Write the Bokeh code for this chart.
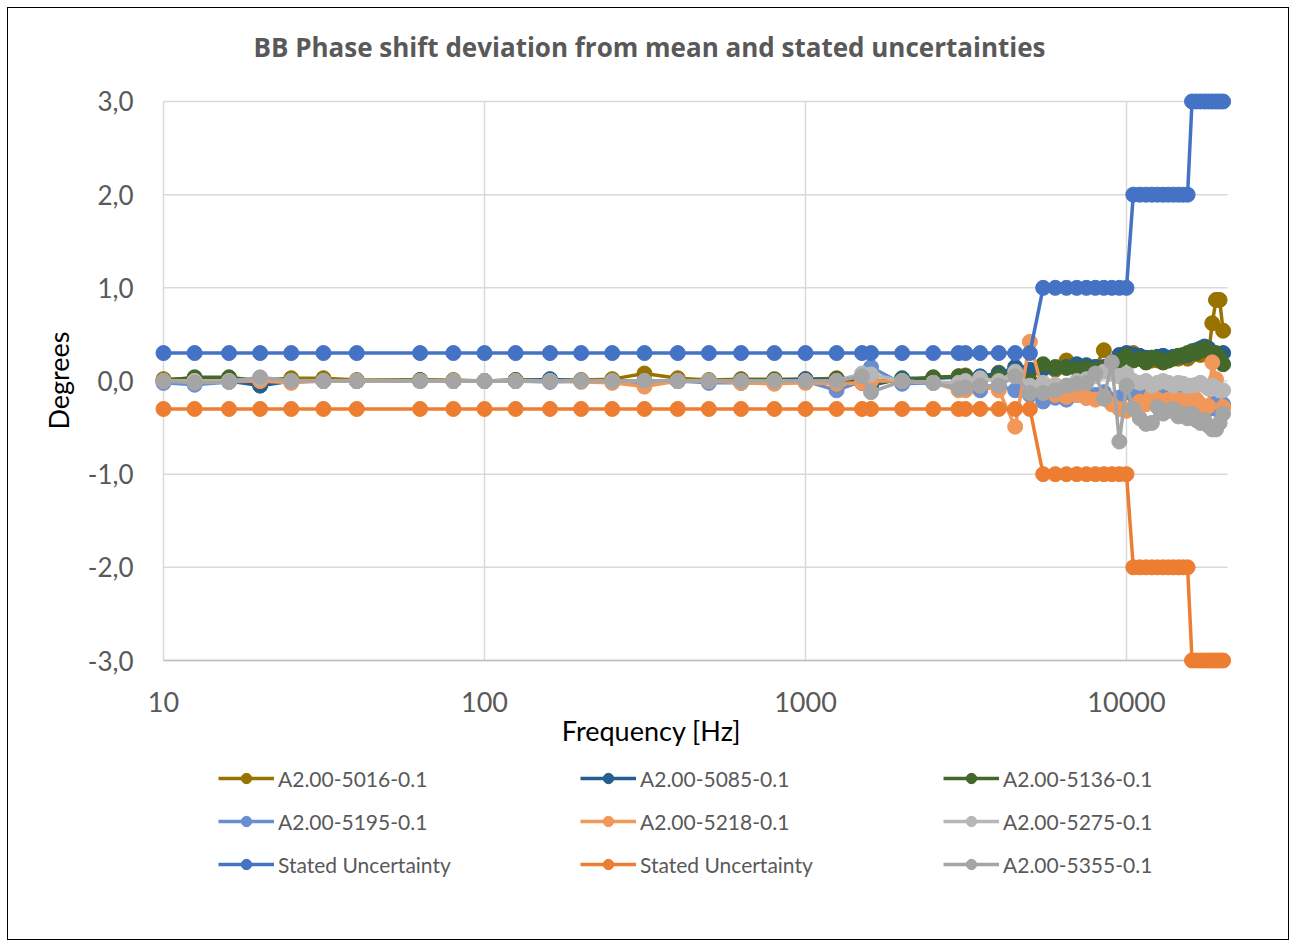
import math
from bokeh.plotting import figure
from bokeh.models import Range1d, Legend, LegendItem, Label
from bokeh.embed import file_html
from bokeh.resources import INLINE
from bokeh.core.properties import value

# ---------------- data ----------------
freq = [10, 12.5, 16, 20, 25, 31.5, 40, 63, 80, 100, 125, 160, 200, 250, 315, 400, 500, 630,
        800, 1000, 1250, 1500, 1600, 2000, 2500, 3000, 3150, 3500, 4000, 4500, 5000,
        5500, 6000, 6500, 7000, 7500, 8000, 8500, 9000, 9500, 10000,
        10500, 11000, 11500, 12000, 12500, 13000, 13500, 14000, 14500, 15000, 15500,
        16000, 16500, 17000, 17500, 18000, 18500, 19000, 19500, 20000]

unc_upper = [0.3, 0.3, 0.3, 0.3, 0.3, 0.3, 0.3, 0.3, 0.3, 0.3, 0.3, 0.3, 0.3, 0.3, 0.3, 0.3, 0.3, 0.3,
             0.3, 0.3, 0.3, 0.3, 0.3, 0.3, 0.3, 0.3, 0.3, 0.3, 0.3, 0.3, 0.3,
             1.0, 1.0, 1.0, 1.0, 1.0, 1.0, 1.0, 1.0, 1.0, 1.0,
             2.0, 2.0, 2.0, 2.0, 2.0, 2.0, 2.0, 2.0, 2.0, 2.0, 2.0,
             3.0, 3.0, 3.0, 3.0, 3.0, 3.0, 3.0, 3.0, 3.0]
unc_lower = [-0.3, -0.3, -0.3, -0.3, -0.3, -0.3, -0.3, -0.3, -0.3, -0.3, -0.3, -0.3, -0.3, -0.3, -0.3, -0.3, -0.3, -0.3,
             -0.3, -0.3, -0.3, -0.3, -0.3, -0.3, -0.3, -0.3, -0.3, -0.3, -0.3, -0.3, -0.3,
             -1.0, -1.0, -1.0, -1.0, -1.0, -1.0, -1.0, -1.0, -1.0, -1.0,
             -2.0, -2.0, -2.0, -2.0, -2.0, -2.0, -2.0, -2.0, -2.0, -2.0, -2.0,
             -3.0, -3.0, -3.0, -3.0, -3.0, -3.0, -3.0, -3.0, -3.0]

s5016 = [0.02, 0.03, 0.03, 0.01, 0.03, 0.03, 0.01, 0.01, 0.01, 0.0, 0.01, 0.01, 0.01, 0.02, 0.08, 0.03, 0.01, 0.02,
         0.02, 0.02, 0.03, 0.02, 0.0, 0.02, 0.03, 0.05, 0.06, 0.04, 0.09, 0.1, 0.12,
         0.14, 0.12, 0.22, 0.14, 0.12, 0.15, 0.33, 0.2, 0.25, 0.28,
         0.3, 0.24, 0.2, 0.22, 0.22, 0.2, 0.22, 0.25, 0.24, 0.26, 0.24,
         0.28, 0.3, 0.28, 0.3, 0.28, 0.62, 0.87, 0.87, 0.54]
s5085 = [0.0, -0.01, 0.0, -0.05, 0.0, 0.0, 0.0, 0.0, 0.0, 0.0, 0.0, 0.02, 0.0, 0.0, 0.0, 0.0, 0.0, 0.0,
         0.01, 0.02, 0.02, -0.02, -0.05, 0.03, 0.03, 0.04, 0.05, 0.05, 0.08, 0.15, 0.12,
         0.13, 0.14, 0.15, 0.18, 0.17, 0.15, 0.15, 0.2, 0.28, 0.3,
         0.28, 0.27, 0.25, 0.25, 0.26, 0.27, 0.25, 0.26, 0.27, 0.27, 0.28,
         0.3, 0.33, 0.35, 0.37, 0.35, 0.3, 0.25, 0.22, 0.3]
s5136 = [0.0, 0.04, 0.04, 0.0, 0.0, 0.0, 0.0, 0.01, 0.0, 0.0, 0.01, 0.0, 0.0, 0.0, 0.0, 0.0, 0.0, 0.01,
         0.01, 0.0, 0.02, 0.0, -0.02, 0.01, 0.04, 0.05, 0.05, 0.02, 0.05, 0.1, 0.0,
         0.18, 0.15, 0.14, 0.13, 0.14, 0.12, 0.14, 0.18, 0.22, 0.27,
         0.22, 0.24, 0.2, 0.25, 0.24, 0.2, 0.22, 0.24, 0.27, 0.28, 0.3,
         0.32, 0.3, 0.33, 0.35, 0.32, 0.28, 0.3, 0.25, 0.18]
s5195 = [-0.02, -0.04, -0.01, 0.0, 0.0, 0.0, 0.0, 0.0, 0.0, 0.0, 0.0, -0.01, 0.0, 0.0, -0.02, 0.0, -0.02, -0.02,
         -0.02, 0.0, -0.1, 0.0, 0.15, -0.03, -0.02, -0.05, -0.07, -0.1, -0.05, -0.1, -0.15,
         -0.22, -0.18, -0.2, -0.15, -0.18, -0.15, -0.12, -0.2, -0.18, -0.1,
         -0.15, -0.12, -0.2, -0.15, -0.18, -0.1, -0.15, -0.12, -0.15, -0.18, -0.2,
         -0.25, -0.22, -0.28, -0.32, -0.3, -0.25, -0.3, -0.2, -0.25]
s5218 = [0.0, 0.0, 0.0, 0.0, -0.02, 0.0, 0.0, 0.0, 0.0, 0.0, 0.0, 0.0, -0.01, -0.02, -0.06, 0.0, 0.0, -0.02,
         -0.03, -0.02, -0.03, -0.02, 0.0, 0.0, -0.02, -0.1, -0.1, -0.05, -0.1, -0.49, 0.42,
         -0.12, -0.15, -0.17, -0.15, -0.18, -0.2, -0.17, -0.25, -0.3, -0.32,
         -0.28, -0.22, -0.25, -0.15, -0.2, -0.22, -0.2, -0.18, -0.25, -0.2, -0.28,
         -0.15, -0.2, -0.25, -0.3, -0.27, 0.2, 0.02, -0.1, -0.28]
s5275 = [0.0, 0.0, 0.0, 0.03, 0.0, 0.0, 0.0, 0.0, 0.0, 0.0, 0.0, 0.0, 0.0, 0.0, 0.0, 0.0, 0.0, 0.0,
         0.0, 0.0, 0.0, 0.08, 0.07, 0.0, -0.02, -0.02, 0.0, 0.03, 0.0, 0.1, -0.05,
         -0.02, -0.04, -0.05, 0.0, 0.02, 0.05, 0.1, 0.08, 0.05, 0.08,
         0.0, -0.02, 0.0, -0.05, -0.02, 0.0, -0.02, -0.05, -0.02, -0.03, -0.05,
         -0.05, -0.04, -0.02, -0.05, -0.08, -0.05, -0.08, -0.1, -0.1]
s5355 = [0.0, -0.02, -0.01, 0.04, 0.0, 0.0, 0.0, 0.0, 0.0, 0.0, 0.0, 0.0, 0.0, 0.0, 0.0, 0.0, 0.0, 0.0,
         0.0, 0.0, 0.0, 0.05, -0.12, 0.0, -0.02, -0.08, -0.07, -0.05, -0.05, 0.05, -0.13,
         -0.13, -0.1, -0.05, -0.03, -0.02, 0.08, -0.19, 0.2, -0.65, -0.05,
         -0.3, -0.4, -0.46, -0.45, -0.28, -0.35, -0.32, -0.3, -0.38, -0.35, -0.4,
         -0.35, -0.42, -0.45, -0.42, -0.48, -0.52, -0.52, -0.45, -0.35]

series_names = ["A2.00-5016-0.1", "A2.00-5085-0.1", "A2.00-5136-0.1", "A2.00-5195-0.1",
                "A2.00-5218-0.1", "A2.00-5275-0.1", "Stated Uncertainty", "Stated Uncertainty",
                "A2.00-5355-0.1"]
series_values = [s5016, s5085, s5136, s5195, s5218, s5275, unc_upper, unc_lower, s5355]
series_colors = ["#997300", "#255E91", "#43682B", "#698ED0", "#F1975A", "#B7B7B7",
                 "#4472C4", "#ED7D31", "#A5A5A5"]

y_ticks = [-3, -2, -1, 0, 1, 2, 3]
y_tick_labels = ["-3,0", "-2,0", "-1,0", "0,0", "1,0", "2,0", "3,0"]
x_ticks = [10, 100, 1000, 10000]
x_tick_labels = ["10", "100", "1000", "10000"]

# ---------------- layout (canvas pixels) ----------------
FONT = "Lato"
TITLE_FONT = "Open Sans"
TXT = "#595959"
W, H = 1282, 933
PX_DEC = 321.0           # px per decade
PX_UNIT = 93.17          # px per y unit
X10_PX = 155             # canvas x of 10 Hz
Y0_PX = 372.5            # canvas y of 0
GRID_RIGHT_PX = 1219     # right end of horizontal gridlines


def xd(px):   # canvas x pixel -> data x
    return 10 ** (1 + (px - X10_PX) / PX_DEC)


def yd(py):   # canvas y pixel -> data y
    return (Y0_PX - py) / PX_UNIT


p = figure(width=W, height=H, x_axis_type="log",
           x_axis_location=None, y_axis_location=None,
           x_range=Range1d(xd(0), xd(W)), y_range=Range1d(yd(H), yd(0)),
           output_backend="svg", toolbar_location=None, min_border=0)
p.styles = {"border": "1px solid #000000", "margin-left": "7px", "margin-top": "7px"}
p.outline_line_color = None
p.background_fill_color = "white"
p.border_fill_color = "white"
p.xgrid.grid_line_color = None
p.ygrid.grid_line_color = None

# gridlines restricted to the plot area
gx_end = xd(GRID_RIGHT_PX)
p.segment(x0=[x_ticks[0]] * len(y_ticks), x1=[gx_end] * len(y_ticks), y0=y_ticks, y1=y_ticks,
          line_color="#D9D9D9", line_width=1.5)
p.segment(x0=x_ticks, x1=x_ticks, y0=[y_ticks[0]] * len(x_ticks), y1=[y_ticks[-1]] * len(x_ticks),
          line_color="#D9D9D9", line_width=1.5)
p.segment(x0=[x_ticks[0]], x1=[gx_end], y0=[y_ticks[0]], y1=[y_ticks[0]],
          line_color="#BFBFBF", line_width=1.5)

# tick labels
p.text(x=[xd(125)] * len(y_ticks), y=y_ticks, text=y_tick_labels,
       text_font=value(FONT), text_font_size="26px", text_color=TXT,
       text_align="right", text_baseline="middle")
p.text(x=x_ticks, y=[yd(693)] * len(x_ticks), text=x_tick_labels,
       text_font=value(FONT), text_font_size="27px", text_color=TXT,
       text_align="center", text_baseline="middle")

# axis titles and chart title
p.add_layout(Label(x=xd(643), y=yd(722), text="Frequency [Hz]", text_font=FONT,
                   text_font_size="27px", text_color="#000000",
                   text_align="center", text_baseline="middle"))
p.add_layout(Label(x=xd(50), y=yd(372), text="Degrees", text_font=FONT, angle=math.pi / 2,
                   text_font_size="27px", text_color="#000000",
                   text_align="center", text_baseline="middle"))
p.add_layout(Label(x=xd(641), y=yd(38),
                   text="BB Phase shift deviation from mean and stated uncertainties",
                   text_font=TITLE_FONT, text_font_size="26px", text_font_style="bold",
                   text_color=TXT, text_align="center", text_baseline="middle"))

# series
items = []
for name, vals, color in zip(series_names, series_values, series_colors):
    rl = p.line(freq, vals, line_color=color, line_width=3.5)
    rs = p.scatter(freq, vals, size=15, fill_color=color, line_color=color, line_width=1)
    items.append(LegendItem(label=name, renderers=[rl, rs]))

# legends: three columns, rows at canvas y 771, 814, 857
col_x = [210, 572, 935]
LEG_BOTTOM = 869
for c in range(3):
    col_items = [items[c], items[c + 3], items[c + 6]]
    lg = Legend(items=col_items, location=(col_x[c], H - LEG_BOTTOM),
                orientation="vertical", padding=0, margin=0, spacing=17,
                glyph_width=56, glyph_height=26, label_height=26, label_standoff=4,
                label_text_font=FONT, label_text_font_size="21px", label_text_color=TXT,
                border_line_color=None, background_fill_alpha=0)
    p.add_layout(lg, "center")

open("out.html", "w").write(file_html(p, INLINE))
